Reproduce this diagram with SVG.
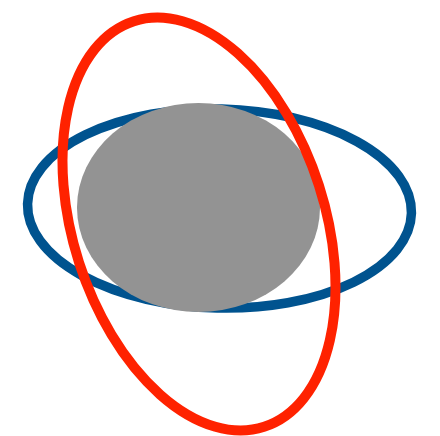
<svg xmlns="http://www.w3.org/2000/svg" width="440" height="436" viewBox="0 0 440 436">
<style>
.ring{fill:none}
#blue-ring ellipse{stroke:#00538f;stroke-width:9.5}
#gray-disc ellipse{fill:#939393}
#red-ring ellipse{stroke:#ff2200;stroke-width:10}
</style>
<rect width="440" height="436" fill="#ffffff"/>
<g id="blue-ring"><ellipse class="ring" cx="219.5" cy="208.5" rx="192" ry="99.5" transform="rotate(1.4 219.5 208.5)"/></g>
<g id="gray-disc"><ellipse cx="198.5" cy="207.5" rx="121.5" ry="104.5"/></g>
<g id="red-ring"><ellipse class="ring" cx="199" cy="224" rx="126" ry="213" transform="rotate(-17.8 199 224)"/></g>
</svg>
